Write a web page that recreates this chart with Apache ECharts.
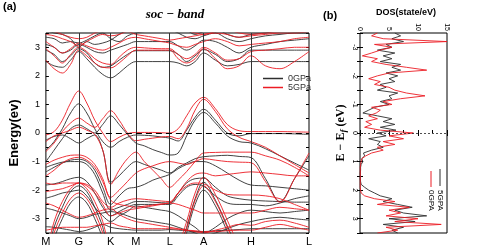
<!DOCTYPE html>
<html><head><meta charset="utf-8">
<script src="https://cdn.jsdelivr.net/npm/echarts@6.0.0/dist/echarts.min.js"></script>
<style>html,body{margin:0;padding:0;background:#fff}#c{width:485px;height:249px}</style>
</head><body><div id="c"></div>
<script>
// ---- k-path ----
var kPts = [0,8.5,17,25.5,34,42.25,50.5,58.75,67,75.7,84.3,93,101.75,110.5,119.25,128,136.75,145.5,154.25,163,175.25,187.5,199.75,212,227,242,257,272];
var kTicks = [0,34,67,93,128,163,212,272];
var kLabels = ['M','G','K','M','L','A','H','L'];
var N = null;
// ---- 0GPa bands (black) ----
var bC1 = [2.5,2.35,2.3,2.55,2.85,2.6,2.3,2.05,1.93,2.1,2.35,2.5,2.5,2.5,2.5,2.5,2.45,2.35,2.5,2.8,2.55,2.35,2.4,2.5,2.5,2.5,2.5,2.5];
var bC2 = [2.9,2.75,2.5,2.7,2.95,2.8,2.45,2.3,2.35,2.55,2.75,2.88,2.88,2.88,2.88,2.88,2.75,2.5,2.7,2.92,2.75,2.5,2.6,2.9,2.9,2.9,2.9,2.9];
var bC3 = [3.1,3.0,2.8,2.9,3.1,3.0,2.85,2.8,2.9,3.0,3.1,3.2,3.2,3.2,3.2,3.2,3.05,2.9,3.05,3.25,3.2,3.0,2.8,3.0,3.1,3.2,3.25,3.3];
var bC4 = [3.35,3.3,3.15,3.2,3.15,3.25,3.4,3.5,3.3,3.2,3.4,3.5,3.55,3.6,3.6,3.6,3.5,3.35,3.3,3.4,3.5,3.3,3.2,3.3,3.4,3.45,3.5,3.5];
var bC5 = [3.6,3.5,3.45,3.3,3.0,3.2,3.1,3.15,3.25,3.45,3.6,3.7,3.7,3.7,3.7,3.7,3.7,3.6,3.45,3.55,3.65,3.45,3.35,3.45,3.5,3.6,3.65,3.7];
var bV1 = [-0.6,-0.3,0.15,0.7,1.02,0.7,0.15,-0.3,-0.5,-0.3,-0.15,-0.07,-0.08,-0.1,-0.14,-0.18,-0.28,0.1,0.55,0.83,0.45,0.0,-0.1,-0.02,-0.02,-0.02,-0.03,-0.05];
var bV2 = [-1.0,-0.6,-0.2,0.15,0.28,0.15,0.0,0.3,0.6,0.3,-0.05,-0.35,-0.45,-0.58,-0.68,-0.77,-0.7,-0.1,0.45,0.72,0.35,-0.1,-0.3,-0.35,-0.55,-0.8,-1.05,-1.3];
var bV3 = [-0.25,-0.12,-0.07,-0.2,-0.35,-0.2,-0.07,-0.6,-1.72,-1.5,-1.2,-1.0,-1.1,-1.2,-1.3,-1.4,-1.2,-1.05,-0.9,-0.83,-0.8,-0.78,-0.82,-0.86,-1.6,-2.4,-1.6,-0.8];
var bV4 = [-1.36,-1.2,-1.05,-0.95,-0.92,-1.0,-1.3,-1.9,-2.5,-2.2,-1.95,-1.9,-1.8,-1.65,-1.55,-1.45,-1.25,-1.1,-1.0,-1.0,-1.15,-1.4,-1.65,-1.82,-1.85,-1.9,-1.95,-2.0];
var bV5 = [-1.2,-1.1,-1.02,-1.0,-1.0,-1.1,-1.45,-2.1,-2.7,-2.6,-2.5,-2.4,-2.4,-2.42,-2.44,-2.45,-2.1,-1.75,-1.6,-1.58,-1.9,-2.2,-2.3,-2.35,-2.38,-2.4,-2.42,-2.42];
var bV6 = [-1.82,-1.78,-1.7,-1.6,-1.55,-1.7,-2.1,-2.6,-2.9,-2.75,-2.6,-2.5,-2.5,-2.5,-2.5,-2.5,-2.2,-1.9,-1.8,-1.86,-2.2,-2.45,-2.5,-2.5,-2.55,-2.45,-2.3,-2.2];
var bV7 = [-2.28,-2.2,-2.1,-2.05,-2.0,-2.2,-2.6,-2.9,-3.1,-2.9,-2.75,-2.55,-2.6,-2.65,-2.7,-2.75,-2.9,-3.1,-3.3,-3.5,-3.3,-3.0,-2.8,-2.7,-2.75,-2.8,-2.75,-2.7];
var bV8 = [-2.63,-2.7,-2.8,-2.9,-3.0,-2.95,-2.85,-2.8,-2.75,-2.8,-2.9,-3.0,-3.05,-3.1,-3.15,-3.2,-3.3,-3.4,-3.5,-3.6,-3.5,-3.35,-3.2,-3.1,-3.0,-2.95,-3.0,-3.05];
var bV9 = [-3.28,-3.3,-3.35,-3.4,-3.45,-3.4,-3.3,-3.2,-3.3,-3.35,-3.38,-3.4,-3.4,-3.4,-3.4,-3.38,-3.4,-3.42,-3.45,-3.45,-3.42,-3.4,-3.38,-3.35,-3.35,-3.35,-3.35,-3.35];
var bG1 = [-4.5,-3.3,-2.6,-2.05,-1.85,-2.05,-2.6,-3.3,-4.5,N,N,N,N,N,N,N,N,N,N,N,N,N,N,N,N,N,N,N];
var bG2 = [-4.8,-3.7,-3.0,-2.45,-2.24,-2.45,-3.0,-3.7,-4.8,N,N,N,N,N,N,N,N,N,N,N,N,N,N,N,N,N,N,N];
var bA1 = [N,N,N,N,N,N,N,N,N,N,N,N,N,N,N,N,-4.2,-3.3,-2.3,-1.72,-2.35,-3.25,-4.2,N,N,N,N,N];
var bA2 = [N,N,N,N,N,N,N,N,N,N,N,N,N,N,N,N,-4.5,-3.5,-2.5,-2.0,-2.55,-3.45,-4.4,N,N,N,N,N];
// ---- 5GPa bands (red) ----
var rC1 = [2.55,2.25,2.1,2.4,2.9,2.7,2.45,2.3,2.28,2.45,2.7,2.9,2.9,2.9,2.9,2.9,2.6,2.45,2.6,2.95,2.6,2.25,2.35,2.7,2.35,2.25,2.5,2.85];
var rC2 = [2.95,2.7,2.45,2.75,3.0,2.85,2.6,2.45,2.4,2.65,2.9,3.0,2.98,2.96,2.95,2.95,2.75,2.6,2.75,3.0,2.8,2.55,2.6,2.85,2.9,2.95,3.0,3.0];
var rC3 = [3.2,3.0,2.8,2.95,3.15,3.05,2.95,2.9,3.0,3.15,3.3,3.35,3.3,3.25,3.2,3.15,3.05,3.0,3.1,3.2,3.3,3.2,3.05,3.1,3.15,3.2,3.3,3.35];
var rC4 = [3.45,3.4,3.3,3.2,3.05,3.2,3.35,3.45,3.4,3.45,3.55,3.45,3.4,3.35,3.3,3.25,3.3,3.35,3.4,3.45,3.5,3.45,3.35,3.4,3.45,3.5,3.5,3.55];
var rC5 = [3.6,3.55,3.45,3.35,3.3,3.35,3.5,3.6,3.7,3.7,3.7,3.7,3.7,3.7,3.7,3.7,3.7,3.6,3.5,3.45,3.55,3.6,3.5,3.45,3.5,3.55,3.6,3.6];
var rV1 = [-0.07,0.05,0.45,1.05,1.47,1.05,0.45,0.0,-0.3,-0.15,-0.02,0.02,0.02,0.02,0.01,0.0,0.15,0.6,1.05,1.25,0.85,0.3,0.08,0.05,0.05,0.05,0.04,0.03];
var rV2 = [-0.65,-0.35,0.05,0.35,0.52,0.35,0.2,0.5,0.78,0.45,0.0,-0.27,-0.22,-0.18,-0.14,-0.12,-0.2,0.15,0.8,1.18,0.75,0.15,-0.15,-0.3,-0.5,-0.8,-1.1,-1.4];
var rV3 = [-0.3,-0.1,0.0,0.1,0.2,0.1,-0.05,-0.6,-1.8,-1.3,-0.9,-0.67,-1.0,-1.3,-1.6,-1.9,-1.65,-1.35,-1.0,-0.7,-0.68,-0.67,-0.67,-0.67,-0.8,-0.95,-1.2,-1.5];
var rV4 = [-1.1,-0.95,-0.85,-0.78,-0.77,-0.85,-1.1,-1.6,-2.25,-2.0,-1.7,-1.4,-1.25,-1.15,-1.05,-1.0,-1.05,-1.1,-1.0,-0.9,-0.95,-1.0,-1.02,-1.04,-1.7,-2.42,-1.6,-0.7];
var rV5 = [-1.5,-1.3,-1.05,-0.9,-0.85,-0.95,-1.2,-1.7,-2.35,-2.5,-2.55,-2.6,-2.56,-2.52,-2.48,-2.45,-2.1,-1.7,-1.45,-1.4,-1.5,-1.45,-1.4,-1.36,-1.4,-1.45,-1.5,-1.5];
var rV6 = [-1.75,-1.8,-1.75,-1.75,-1.75,-1.8,-2.0,-2.4,-2.6,-2.45,-2.35,-2.3,-2.32,-2.35,-2.38,-2.4,-2.1,-1.85,-1.75,-1.78,-2.0,-2.15,-2.17,-2.17,-2.2,-2.3,-2.5,-2.7];
var rV7 = [-2.05,-2.0,-1.95,-1.85,-1.75,-1.85,-2.1,-2.5,-2.9,-2.8,-2.7,-2.65,-2.6,-2.55,-2.5,-2.45,-2.5,-2.6,-2.7,-2.8,-2.8,-2.8,-2.8,-2.8,-2.7,-2.6,-2.65,-2.7];
var rV8 = [-2.45,-2.55,-2.7,-2.85,-2.95,-2.9,-2.8,-2.7,-2.65,-2.85,-3.0,-3.1,-3.15,-3.2,-3.25,-3.3,-3.35,-3.4,-3.45,-3.5,-3.4,-3.3,-3.2,-3.23,-3.1,-3.05,-3.15,-3.3];
var rV9 = [-3.4,-3.35,-3.3,-3.3,-3.3,-3.3,-3.25,-3.2,-3.15,-3.25,-3.3,-3.35,-3.35,-3.35,-3.35,-3.35,-3.37,-3.4,-3.42,-3.45,-3.45,-3.42,-3.4,-3.4,-3.3,-3.2,-3.3,-3.4];
var rG1 = [-4.3,-3.1,-2.4,-1.95,-1.75,-1.95,-2.4,-3.1,-4.3,N,N,N,N,N,N,N,N,N,N,N,N,N,N,N,N,N,N,N];
var rG2 = [-4.6,-3.5,-2.8,-2.3,-2.1,-2.3,-2.8,-3.5,-4.6,N,N,N,N,N,N,N,N,N,N,N,N,N,N,N,N,N,N,N];
var rA1 = [N,N,N,N,N,N,N,N,N,N,N,N,N,N,N,N,-4.0,-3.1,-2.1,-1.55,-2.15,-3.05,-4.0,N,N,N,N,N];
var rA2 = [N,N,N,N,N,N,N,N,N,N,N,N,N,N,N,N,-4.3,-3.35,-2.35,-1.85,-2.4,-3.3,-4.25,N,N,N,N,N];
var blackBands = [bC1,bC2,bC3,bC4,bC5,bV1,bV2,bV3,bV4,bV5,bV6,bV7,bV8,bV9,bG1,bG2,bA1,bA2];
var redBands = [rC1,rC2,rC3,rC4,rC5,rV1,rV2,rV3,rV4,rV5,rV6,rV7,rV8,rV9,rG1,rG2,rA1,rA2];
// ---- DOS ----
var dosE = [-3.5,-3.4,-3.3,-3.2,-3.1,-3.0,-2.9,-2.8,-2.7,-2.6,-2.5,-2.4,-2.3,-2.2,-2.1,-2.0,-1.9,-1.8,-1.7,-1.6,-1.5,-1.4,-1.3,-1.2,-1.1,-1.0,-0.9,-0.8,-0.7,-0.6,-0.5,-0.4,-0.3,-0.2,-0.1,0.0,0.1,0.2,0.3,0.4,0.5,0.6,0.7,0.8,0.9,1.0,1.1,1.2,1.3,1.4,1.5,1.6,1.7,1.8,1.9,2.0,2.1,2.2,2.3,2.4,2.5,2.6,2.7,2.8,2.9,3.0,3.1,3.2,3.3,3.4,3.5];
var dosBlack = [6.0,7.0,5.5,7.5,4.5,5.5,3.0,6.0,4.0,5.5,3.5,7.0,5.5,7.0,4.5,6.5,5.0,6.0,3.5,4.5,3.0,6.5,5.0,5.5,3.5,5.0,2.5,1.5,0.5,3.0,5.5,4.0,6.0,3.5,6.2,3.0,4.5,1.5,3.5,3.0,4.0,2.0,0.6,0.8,0.3,0.5,0.2,0.1,0.1,0.05,0.05,0.05,0.1,0.2,0.8,1.5,2.5,3.5,5.5,4.0,6.5,9.0,6.0,7.5,11.5,5.0,9.5,4.0,7.5,5.5,6.5];
var dosRed = [3.0,2.0,4.0,15.0,2.5,5.5,3.5,2.0,0.4,3.0,2.0,4.5,8.0,11.5,5.0,3.0,1.5,3.5,2.5,5.0,6.0,8.0,11.2,7.0,4.0,5.5,2.0,3.5,2.8,1.5,3.0,1.0,2.0,0.8,3.5,9.2,5.0,7.5,4.0,6.0,3.0,4.0,2.0,1.0,0.3,0.2,0.1,0.05,0.05,0.05,0.05,0.05,0.05,0.05,0.05,0.1,0.2,0.8,2.5,6.0,3.0,8.5,5.0,7.0,4.5,10.0,6.0,14.0,4.5,6.5,3.0];

var BLACK = '#2e2e2e', RED = '#ec1c24';
var SANS = '"Liberation Sans", Arial, sans-serif';
function bandSeries(band, name, color) {
  var d = [];
  for (var i = 0; i < kPts.length; i++) if (band[i] !== null) d.push([kPts[i], band[i]]);
  return { type:'line', name:name, xAxisIndex:0, yAxisIndex:0, data:d, symbol:'none', smooth:0.35,
    lineStyle:{color:color, width:0.9}, itemStyle:{color:color}, silent:true, clip:true, z:3 };
}
var series = [];
blackBands.forEach(function(b){ series.push(bandSeries(b,'0GPa',BLACK)); });
redBands.forEach(function(b){ series.push(bandSeries(b,'5GPa',RED)); });
// k-point lines and Fermi level
series.push({ type:'line', xAxisIndex:0, yAxisIndex:0, data:[], silent:true, z:4,
  markLine:{ silent:true, symbol:['none','none'], label:{show:false}, animation:false,
    data: kTicks.slice(1,-1).map(function(v){ return {xAxis:v, lineStyle:{color:'#333', width:1, type:'solid'}}; })
      .concat([{yAxis:0, lineStyle:{color:'#000', width:1.2, type:[6,4]}}]) } });
// DOS
series.push({ type:'line', xAxisIndex:1, yAxisIndex:2, data:dosE.map(function(e,i){return [dosBlack[i], e];}),
  symbol:'none', lineStyle:{color:BLACK, width:0.9}, silent:true, clip:true,
  markLine:{ silent:true, symbol:['none','none'], label:{show:false}, data:[{yAxis:0, lineStyle:{color:'#222', width:0.8, type:[2,2]}}] } });
series.push({ type:'line', xAxisIndex:1, yAxisIndex:2, data:dosE.map(function(e,i){return [dosRed[i], e];}),
  symbol:'none', lineStyle:{color:RED, width:0.9}, silent:true, clip:true });

function intLabel(v){ return (Math.abs(v - Math.round(v)) < 1e-6 && Math.abs(v) <= 3) ? String(Math.round(v)) : ''; }

var option = {
  animation:false,
  backgroundColor:'#fff',
  grid:[
    {left:37, top:33, width:272, height:200, show:true, borderColor:'#000', borderWidth:1, containLabel:false},
    {left:360, top:33, width:87, height:200, show:true, borderColor:'#000', borderWidth:1, containLabel:false}
  ],
  xAxis:[
    {gridIndex:0, type:'value', min:0, max:272, axisLine:{show:false}, axisTick:{show:false}, splitLine:{show:false},
      axisLabel:{customValues:kTicks, formatter:function(v){ var i = kTicks.indexOf(v); return i >= 0 ? kLabels[i] : ''; },
        fontSize:11, color:'#000', margin:3, fontFamily:SANS}},
    {gridIndex:1, type:'value', position:'top', min:0, max:15, interval:5, axisLine:{show:false}, splitLine:{show:false},
      axisTick:{inside:true, length:3, lineStyle:{color:'#000'}},
      axisLabel:{rotate:-90, fontSize:7, color:'#000', margin:2, fontFamily:SANS}},
    {gridIndex:1, type:'value', position:'bottom', min:0, max:15, interval:2.5, axisLine:{show:false}, splitLine:{show:false},
      axisTick:{inside:true, length:3, lineStyle:{color:'#000'}}, axisLabel:{show:false}}
  ],
  yAxis:[
    {gridIndex:0, type:'value', min:-3.5, max:3.5, interval:0.5, axisLine:{show:false}, splitLine:{show:false},
      axisTick:{inside:true, length:3, lineStyle:{color:'#000'}},
      axisLabel:{formatter:intLabel, fontSize:9, color:'#000', margin:6, fontFamily:SANS},
      name:'Energy(ev)', nameLocation:'middle', nameGap:21, nameRotate:90,
      nameTextStyle:{fontSize:13, fontWeight:'bold', color:'#000', fontFamily:SANS}},
    {gridIndex:0, type:'value', position:'right', min:-3.5, max:3.5, interval:0.5, axisLine:{show:false}, splitLine:{show:false},
      axisTick:{inside:true, length:3, lineStyle:{color:'#000'}}, axisLabel:{show:false}},
    {gridIndex:1, type:'value', inverse:true, min:-3.5, max:3.5, interval:0.5, axisLine:{show:false}, splitLine:{show:false},
      axisTick:{inside:true, length:3, lineStyle:{color:'#000'}},
      axisLabel:{formatter:intLabel, rotate:-90, fontSize:7, color:'#000', margin:2, fontFamily:SANS},
      name:'{a|E − E}{s|f}{a| (eV)}', nameLocation:'middle', nameGap:12, nameRotate:90,
      nameTextStyle:{rich:{a:{fontSize:12, fontWeight:'bold', fontFamily:'"Liberation Serif", serif', color:'#000'},
        s:{fontSize:9, fontWeight:'bold', fontStyle:'italic', fontFamily:'"Liberation Serif", serif', color:'#000', padding:[6,0,0,0]}}}},
    {gridIndex:1, type:'value', position:'right', inverse:true, min:-3.5, max:3.5, interval:0.5, axisLine:{show:false}, splitLine:{show:false},
      axisTick:{inside:true, length:3, lineStyle:{color:'#000'}}, axisLabel:{show:false}}
  ],
  legend:{ data:[{name:'0GPa', itemStyle:{color:BLACK}}, {name:'5GPa', itemStyle:{color:RED}}],
    left:263, top:74, orient:'vertical', icon:'rect', itemWidth:20, itemHeight:1.5, itemGap:0, padding:0,
    selectedMode:false, textStyle:{fontSize:9, color:'#333', fontFamily:SANS} },
  graphic:[
    {type:'text', x:3, y:7, style:{text:'(a)', font:'bold 11px '+SANS, fill:'#000', align:'left', verticalAlign:'middle', textAlign:'left', textVerticalAlign:'middle'}},
    {type:'text', x:175, y:15, style:{text:'soc − band', font:'italic bold 13px "Liberation Serif", serif', fill:'#000', align:'center', verticalAlign:'middle', textAlign:'center', textVerticalAlign:'middle'}},
    {type:'text', x:323, y:16, style:{text:'(b)', font:'bold 11px '+SANS, fill:'#000', align:'left', verticalAlign:'middle', textAlign:'left', textVerticalAlign:'middle'}},
    {type:'text', x:406, y:13, style:{text:'DOS(state/eV)', font:'bold 9px '+SANS, fill:'#000', align:'center', verticalAlign:'middle', textAlign:'center', textVerticalAlign:'middle'}},
    {type:'line', shape:{x1:440, y1:169, x2:440, y2:186}, style:{stroke:BLACK, lineWidth:1}},
    {type:'line', shape:{x1:431, y1:171, x2:431, y2:187}, style:{stroke:RED, lineWidth:1}},
    {type:'text', x:440, y:190, rotation:-Math.PI/2, style:{text:'5GPA', font:'8px '+SANS, fill:'#000', align:'left', verticalAlign:'middle', textAlign:'left', textVerticalAlign:'middle'}},
    {type:'text', x:431, y:190, rotation:-Math.PI/2, style:{text:'0GPA', font:'8px '+SANS, fill:'#000', align:'left', verticalAlign:'middle', textAlign:'left', textVerticalAlign:'middle'}}
  ],
  series:series
};
var chart = echarts.init(document.getElementById('c'), null, {renderer:'canvas'});
chart.setOption(option);
</script></body></html>
